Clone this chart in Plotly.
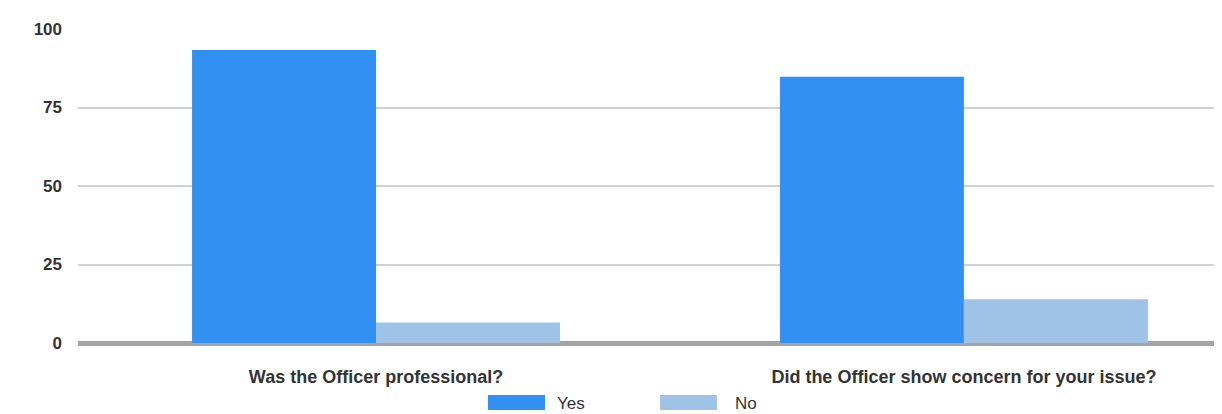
import plotly.graph_objects as go

categories = ["Was the Officer professional?", "Did the Officer show concern for your issue?"]
yes_values = [93.3, 84.8]
no_values = [6.5, 13.9]
series_names = ["Yes", "No"]
y_ticks = [0, 25, 50, 75, 100]

YES_COLOR = "#3290f3"
NO_COLOR = "#9ec3e6"

# plot-area geometry (screen px, page has 8px body margin)
PL, PR, PT, PB = 78, 1222, 29, 343
PW, PH = PR - PL, PB - PT

FONT = "Liberation Sans, Arial, sans-serif"

fig = go.Figure()
fig.add_trace(go.Bar(name=series_names[0], x=[0, 1], y=yes_values, marker_color=YES_COLOR,
                     marker_line_width=0, showlegend=False))
fig.add_trace(go.Bar(name=series_names[1], x=[0, 1], y=no_values, marker_color=NO_COLOR,
                     marker_line_width=0, showlegend=False))

fig.update_layout(
    width=1214, height=406,
    margin=dict(l=PL - 8, r=0, t=PT - 8, b=406 - (PB - 8)),
    paper_bgcolor="white", plot_bgcolor="white",
    barmode="group", bargap=0.374, bargroupgap=0,
    font=dict(family=FONT, size=16, color="#333"),
    xaxis=dict(
        tickmode="array", tickvals=[0, 1], ticktext=categories,
        range=[-0.507, 1.439], showgrid=False, zeroline=False, showline=False,
        ticks="", ticklabelstandoff=21,
        tickfont=dict(family=FONT, size=18, color="#333", weight="bold"),
    ),
    yaxis=dict(
        range=[0, 100], tickmode="array", tickvals=y_ticks,
        showgrid=True, gridcolor="#d2d2d2", gridwidth=2,
        zeroline=True, zerolinecolor="#a4a4a4", zerolinewidth=5,
        showline=False, ticks="", ticklabelstandoff=15,
        tickfont=dict(family=FONT, size=17, color="#333", weight="bold"),
    ),
)

# custom legend
legend_items = [(series_names[0], YES_COLOR, 488, 555), (series_names[1], NO_COLOR, 660, 733)]
for name, color, sx, tx in legend_items:
    fig.add_shape(type="rect", xref="paper", yref="paper",
                  x0=(sx - PL) / PW, x1=(sx + 57 - PL) / PW,
                  y0=(PB - 410) / PH, y1=(PB - 395) / PH,
                  fillcolor=color, line_width=0)
    fig.add_annotation(text=name, xref="paper", yref="paper",
                       x=(tx - PL) / PW, y=(PB - 403) / PH,
                       xanchor="left", yanchor="middle", showarrow=False,
                       font=dict(family=FONT, size=17, color="#333"))

fig.write_html("out.html")
